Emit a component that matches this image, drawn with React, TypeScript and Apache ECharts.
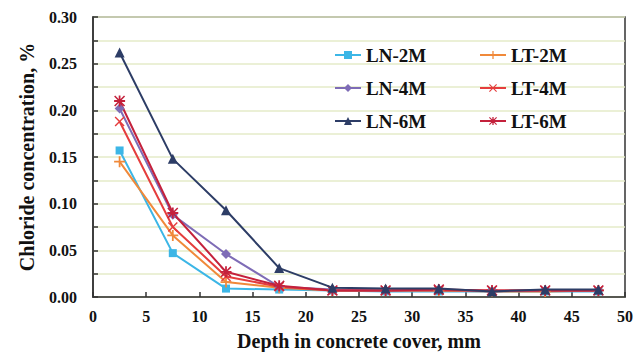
import React, { useEffect, useRef } from "react";
import * as echarts from "echarts";

const depths = [2.5, 7.5, 12.5, 17.5, 22.5, 27.5, 32.5, 37.5, 42.5, 47.5];
const seriesNames = ["LN-2M", "LT-2M", "LN-4M", "LT-4M", "LN-6M", "LT-6M"];
const ln2m = [0.157, 0.047, 0.009, 0.008, 0.007, 0.006, 0.006, 0.006, 0.006, 0.006];
const lt2m = [0.145, 0.066, 0.016, 0.01, 0.007, 0.007, 0.007, 0.006, 0.006, 0.007];
const ln4m = [0.202, 0.088, 0.046, 0.011, 0.008, 0.007, 0.008, 0.006, 0.007, 0.007];
const lt4m = [0.188, 0.075, 0.022, 0.011, 0.007, 0.007, 0.007, 0.007, 0.007, 0.007];
const ln6m = [0.262, 0.148, 0.093, 0.031, 0.01, 0.009, 0.009, 0.006, 0.008, 0.008];
const lt6m = [0.21, 0.09, 0.027, 0.012, 0.007, 0.007, 0.008, 0.007, 0.007, 0.007];
const yTicks = [0, 0.05, 0.1, 0.15, 0.2, 0.25, 0.3];

const FONT = "'Liberation Serif', 'Times New Roman', serif";
const PLUS = "path://M4.2,0H5.8V4.2H10V5.8H5.8V10H4.2V5.8H0V4.2H4.2Z";
const CROSS = "path://M1,0L5,4L9,0L10,1L6,5L10,9L9,10L5,6L1,10L0,9L4,5L0,1Z";
const STAR = "path://M4.2,0H5.8V4.2H10V5.8H5.8V10H4.2V5.8H0V4.2H4.2ZM1,0L5,4L9,0L10,1L6,5L10,9L9,10L5,6L1,10L0,9L4,5L0,1Z";

const styles = [
  { data: ln2m, color: "#3cb6e6", symbol: "rect", size: 8 },
  { data: lt2m, color: "#f0893a", symbol: PLUS, size: 11 },
  { data: ln4m, color: "#7e6cb6", symbol: "diamond", size: 10 },
  { data: lt4m, color: "#e53d3d", symbol: CROSS, size: 10 },
  { data: ln6m, color: "#2d3d66", symbol: "triangle", size: 10 },
  { data: lt6m, color: "#c4213c", symbol: STAR, size: 11 },
];

export default function App() {
  const ref = useRef<HTMLDivElement>(null);
  useEffect(() => {
    if (!ref.current) return;
    const chart = echarts.init(ref.current, null, { renderer: "svg" });
    const legendCommon = {
      orient: "vertical" as const,
      itemGap: 13,
      itemWidth: 26,
      itemHeight: 10,
      textStyle: { fontFamily: FONT, fontWeight: "bold", fontSize: 19, lineHeight: 20, color: "#111" },
    };
    chart.setOption({
      animation: false,
      backgroundColor: "#ffffff",
      grid: {
        left: 93,
        right: 17,
        top: 17,
        bottom: 55,
        outerBoundsMode: "none",
        containLabel: false,
        show: true,
        backgroundColor: "#ffffff",
        borderColor: "#333",
        borderWidth: 1.5,
      },
      legend: [
        { ...legendCommon, left: 329, top: 40, data: ["LN-2M", "LN-4M", "LN-6M"] },
        { ...legendCommon, left: 474, top: 40, data: ["LT-2M", "LT-4M", "LT-6M"] },
      ],
      xAxis: {
        type: "value",
        min: 0,
        max: 50,
        interval: 5,
        name: "Depth in concrete cover, mm",
        nameLocation: "middle",
        nameGap: 34,
        nameTextStyle: { fontFamily: FONT, fontWeight: "bold", fontSize: 20, color: "#111" },
        axisLine: { show: true, onZero: false, lineStyle: { color: "#333", width: 1.5 } },
        axisTick: { show: true, inside: true, length: 5, lineStyle: { color: "#333", width: 1.5 } },
        axisLabel: { fontFamily: FONT, fontWeight: "bold", fontSize: 16, color: "#111", margin: 11 },
        splitLine: { show: false },
      },
      yAxis: {
        type: "value",
        min: 0,
        max: 0.3,
        interval: 0.05,
        name: "Chloride concentration, %",
        nameLocation: "middle",
        nameGap: 56,
        nameTextStyle: { fontFamily: FONT, fontWeight: "bold", fontSize: 20, color: "#111" },
        axisLine: { show: true, lineStyle: { color: "#333", width: 1.5 } },
        axisTick: { show: true, inside: true, length: 5, lineStyle: { color: "#333", width: 1.5 } },
        minorTick: { show: true, splitNumber: 2, length: 5, lineStyle: { color: "#333", width: 1.5 } },
        axisLabel: {
          fontFamily: FONT,
          fontWeight: "bold",
          fontSize: 16,
          color: "#111",
          margin: 16,
          formatter: (v: number) => (yTicks.some((t) => Math.abs(t - v) < 1e-9) ? v.toFixed(2) : ""),
        },
        splitLine: { show: true, lineStyle: { color: "#e4ebc9", width: 1.5 } },
        minorSplitLine: { show: true, lineStyle: { color: "#e4ebc9", width: 1.5 } },
      },
      series: styles.map((s, i) => ({
        name: seriesNames[i],
        type: "line",
        data: depths.map((d, j) => [d, s.data[j]]),
        symbol: s.symbol,
        symbolSize: s.size,
        showAllSymbol: true,
        lineStyle: { color: s.color, width: 2 },
        itemStyle: { color: s.color, borderWidth: 0 },
        z: i === 4 ? 3 : 2,
      })),
    });
    return () => chart.dispose();
  }, []);
  return <div ref={ref} style={{ position: "absolute", left: 0, top: 0, width: 642, height: 352 }} />;
}
